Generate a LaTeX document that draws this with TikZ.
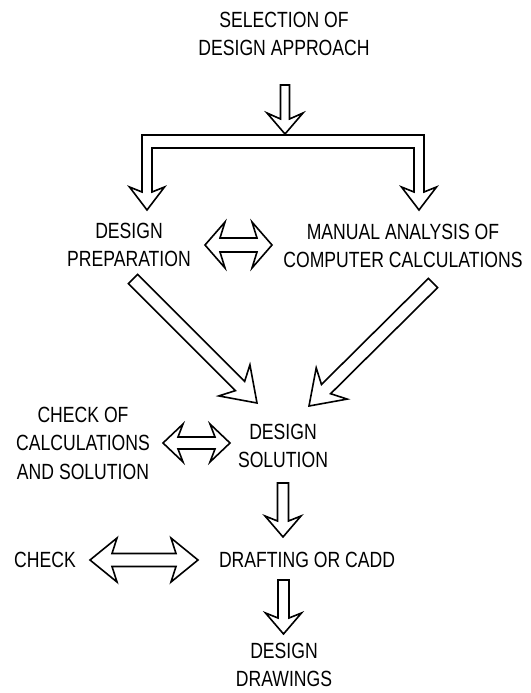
\documentclass[tikz,border=0pt]{standalone}
\usepackage{fontspec}
\setmainfont{Liberation Sans}[FakeStretch=0.8]
\usetikzlibrary{calc}
\tikzset{
  lbl/.style={align=center, inner sep=0pt, font=\fontsize{22}{28.5}\selectfont},
  hollow/.style={draw=black, line width=1.6pt, fill=white, line join=miter},
}
% single hollow arrow: tail, tip, half shaft, half head, junction dist, wing dist
\newcommand{\sarrow}[6]{%
  \coordinate (hJ) at ($(#2)!#5!(#1)$);
  \coordinate (hW) at ($(#2)!#6!(#1)$);
  \draw[hollow] ($(#1)!#3!90:(#2)$) -- ($(hJ)!#3!90:(#2)$) -- ($(hW)!#4!90:(#2)$) -- (#2)
     -- ($(hW)!#4!-90:(#2)$) -- ($(hJ)!#3!-90:(#2)$) -- ($(#1)!#3!-90:(#2)$) -- cycle;
}
% double hollow arrow: tip A, tip B, half shaft, half head, junction dist, wing dist
\newcommand{\darrow}[6]{%
  \coordinate (hJa) at ($(#1)!#5!(#2)$);
  \coordinate (hWa) at ($(#1)!#6!(#2)$);
  \coordinate (hJb) at ($(#2)!#5!(#1)$);
  \coordinate (hWb) at ($(#2)!#6!(#1)$);
  \draw[hollow] (#1) -- ($(hWa)!#4!90:(#2)$) -- ($(hJa)!#3!90:(#2)$) -- ($(hJb)!#3!90:(#2)$)
     -- ($(hWb)!#4!90:(#2)$) -- (#2) -- ($(hWb)!#4!-90:(#2)$) -- ($(hJb)!#3!-90:(#2)$)
     -- ($(hJa)!#3!-90:(#2)$) -- ($(hWa)!#4!-90:(#2)$) -- cycle;
}
\begin{document}
\begin{tikzpicture}[x=1pt,y=-1pt]
\useasboundingbox (0,0) rectangle (530,693);

% texts
\node[lbl] (title)    at (284,34)  {SELECTION OF\\DESIGN APPROACH};
\node[lbl] (prep)     at (129,245) {DESIGN\\PREPARATION};
\node[lbl] (manual)   at (403,246) {MANUAL ANALYSIS OF\\COMPUTER CALCULATIONS};
\node[lbl] (solution) at (283,446) {DESIGN\\SOLUTION};
\node[lbl] (checkof)  at (83,443)  {CHECK OF\\CALCULATIONS\\AND SOLUTION};
\node[lbl] (check)    at (45,560)  {CHECK};
\node[lbl] (drafting) at (307,560) {DRAFTING OR CADD};
\node[lbl] (drawings) at (284,665) {DESIGN\\DRAWINGS};

% arrow from title to branch
\coordinate (a1s) at (285,85);
\coordinate (a1e) at (285,134);
\sarrow{a1s}{a1e}{4.5pt}{18pt}{15pt}{21pt}

% branching arrow
\coordinate (bl) at (147,210);
\coordinate (br) at (419,210);
\draw[hollow] (142,135) -- (424,135) -- (424,192) -- (436.5,187) -- (br) -- (401.5,187)
  -- (414,192) -- (414,148) -- (152,148) -- (152,192) -- (164.5,187) -- (bl)
  -- (129.5,187) -- (142,192) -- cycle;

% double arrow between preparation and manual analysis
\coordinate (d1a) at (205,245);
\coordinate (d1b) at (272,245);
\darrow{d1a}{d1b}{7pt}{23pt}{15pt}{20pt}

% diagonal arrows
\coordinate (lds) at (133,279);
\coordinate (lde) at (257,403);
\sarrow{lds}{lde}{6.5pt}{22pt}{24pt}{32pt}
\coordinate (rds) at (433,283);
\coordinate (rde) at (309,406);
\sarrow{rds}{rde}{6.5pt}{22pt}{24pt}{32pt}

% double arrow check of calculations <-> design solution
\coordinate (d2a) at (163,443);
\coordinate (d2b) at (230,443);
\darrow{d2a}{d2b}{6pt}{19pt}{15pt}{20pt}

% solution -> drafting
\coordinate (a3s) at (283,483);
\coordinate (a3e) at (283,537);
\sarrow{a3s}{a3e}{5.5pt}{18pt}{16pt}{21pt}

% check <-> drafting
\coordinate (d3a) at (90,560);
\coordinate (d3b) at (198,560);
\darrow{d3a}{d3b}{6.5pt}{22pt}{22pt}{27pt}

% drafting -> drawings
\coordinate (a4s) at (283.5,580);
\coordinate (a4e) at (283.5,634);
\sarrow{a4s}{a4e}{5.5pt}{18pt}{16pt}{21pt}
\end{tikzpicture}
\end{document}
